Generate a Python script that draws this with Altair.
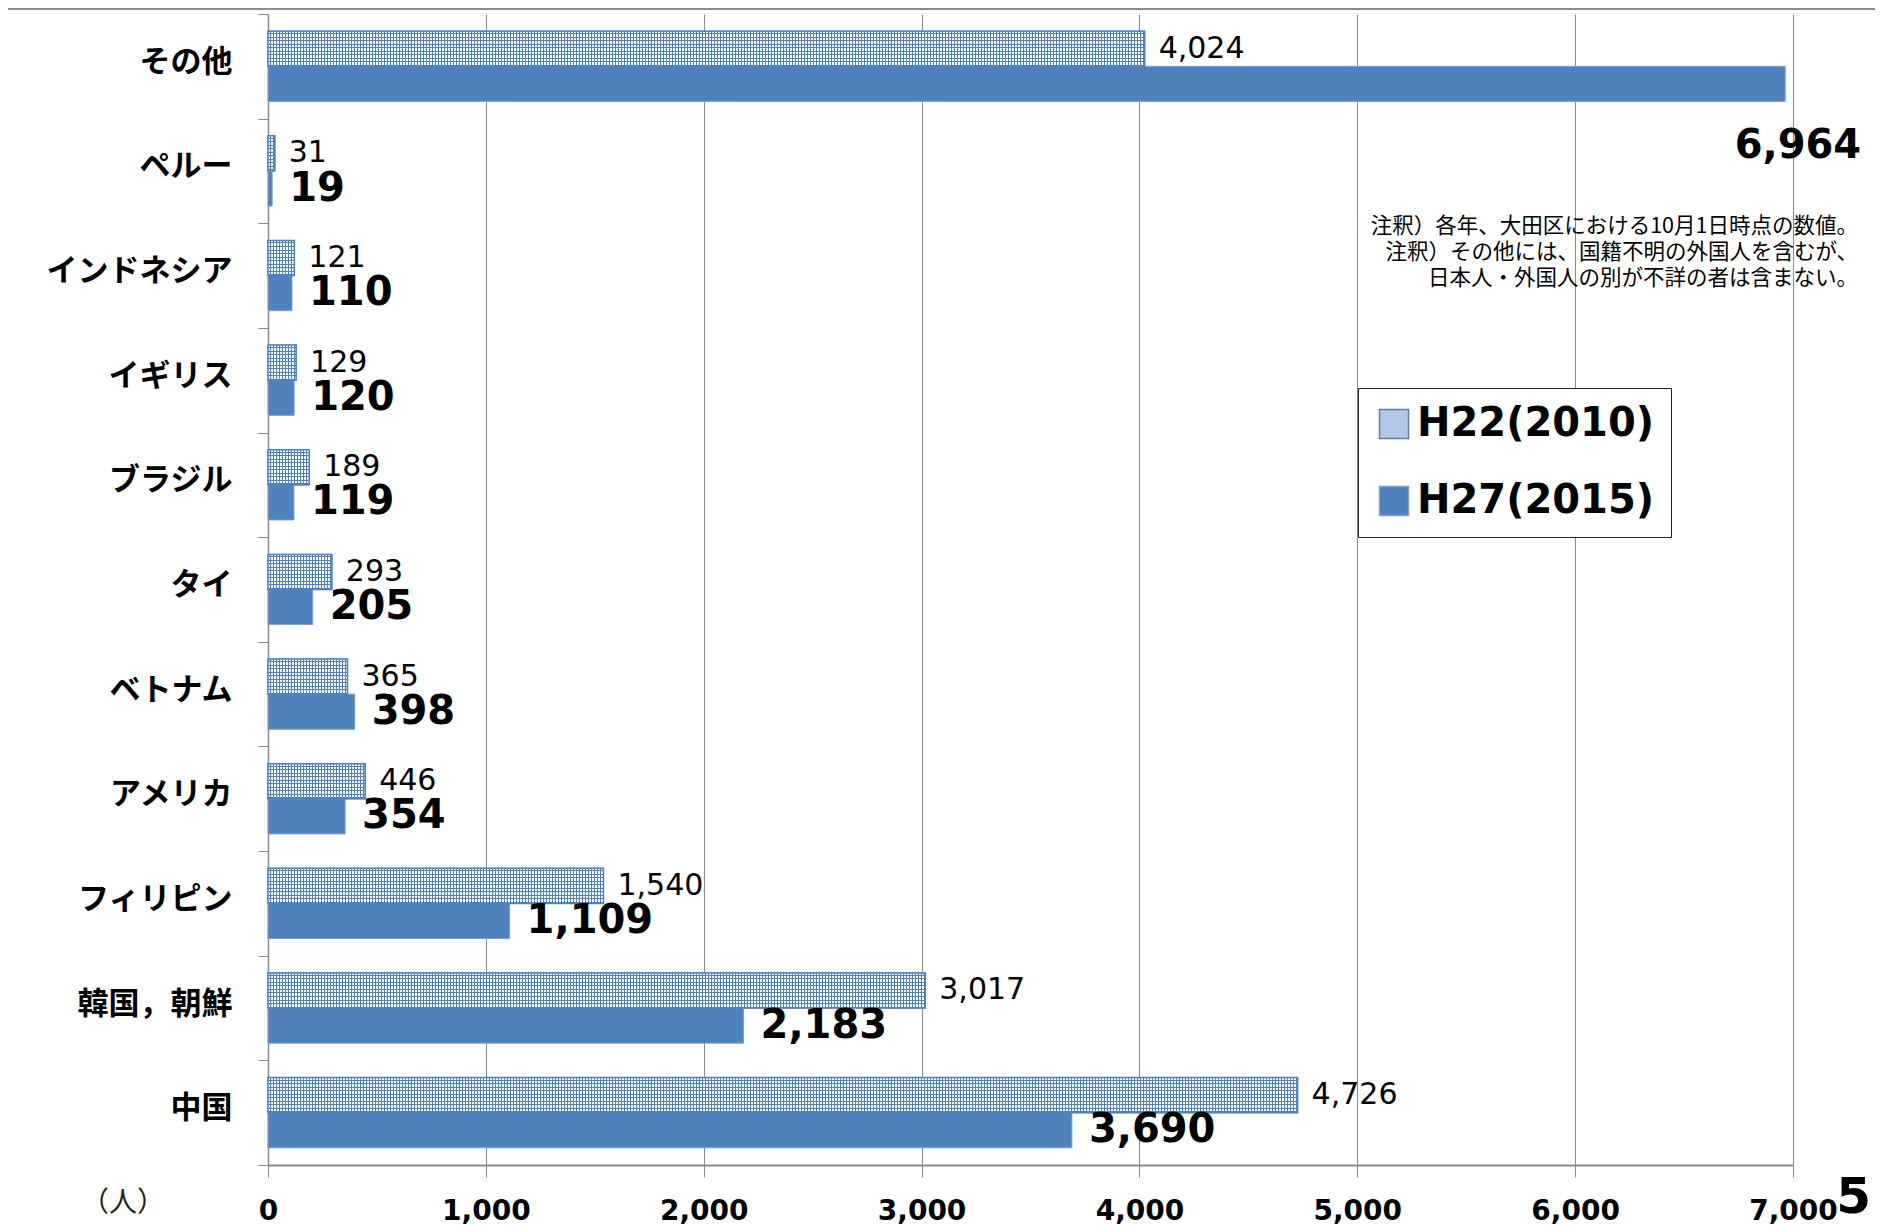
import altair as alt
import pandas as pd

# ---------------- data ----------------
categories = ["その他", "ペルー", "インドネシア", "イギリス", "ブラジル", "タイ",
              "ベトナム", "アメリカ", "フィリピン", "韓国，朝鮮", "中国"]
h22_values = [4024, 31, 121, 129, 189, 293, 365, 446, 1540, 3017, 4726]
h27_values = [6964, 19, 110, 120, 119, 205, 398, 354, 1109, 2183, 3690]
series_names = ["H22(2010)", "H27(2015)"]
x_tick_values = [0, 1000, 2000, 3000, 4000, 5000, 6000, 7000]
x_domain = [0, 7000]
note_lines = ["注釈）各年、大田区における10月1日時点の数値。",
              "注釈）その他には、国籍不明の外国人を含むが、",
              "日本人・外国人の別が不詳の者は含まない。"]
unit_label = "（人）"
page_number = "5"

rows = []
for cat, a, b in zip(categories, h22_values, h27_values):
    rows.append({"cat": cat, "series": series_names[0], "value": a, "label": f"{a:,}"})
    rows.append({"cat": cat, "series": series_names[1], "value": b, "label": f"{b:,}"})
df = pd.DataFrame(rows)

# ---------------- style ----------------
W, H = 1525, 1151
BLUE = "#4f81bd"
GRID = "#8a8a8a"
JP = "Noto Sans CJK JP"
NUM = "DejaVu Sans"
SUB_H = H / len(categories) / (2 + 2 * 0.49)


def stripe_stops(length, period, lw, start, bg):
    stops = [alt.GradientStop(offset=0, color=bg)]
    pos = start
    last = 0
    while pos < length:
        a = round(min(pos / length, 1), 5)
        b = round(min((pos + lw) / length, 1), 5)
        a = max(a, last)
        b = max(b, a)
        stops += [alt.GradientStop(offset=a, color=bg),
                  alt.GradientStop(offset=a, color=BLUE),
                  alt.GradientStop(offset=b, color=BLUE),
                  alt.GradientStop(offset=b, color=bg)]
        last = b
        pos += period
    stops.append(alt.GradientStop(offset=1, color=bg))
    return stops


def vstripes(v):
    w = v / x_domain[1] * W
    return alt.LinearGradient(gradient="linear", stops=stripe_stops(w, 3.0, 1.0, 2.0, "white"),
                              x1=0, x2=1, y1=0, y2=0)


def hstripes():
    clear = "rgba(79,129,189,0)"
    return alt.LinearGradient(gradient="linear",
                              stops=stripe_stops(SUB_H, SUB_H / 10, 1.0, 2.0, clear),
                              x1=0, x2=0, y1=0, y2=1)


x_enc = alt.X("value:Q", scale=alt.Scale(domain=x_domain, nice=False, zero=True),
              axis=alt.Axis(title=None, values=x_tick_values, format=",d", grid=True,
                            gridColor=GRID, gridWidth=1, tickSize=12, tickColor=GRID,
                            domainColor=GRID, domainWidth=2, labelFont=NUM,
                            labelFontSize=28, labelFontWeight="bold", labelColor="black",
                            labelPadding=20, labelFlush=False, labelOverlap=False))
y_enc = alt.Y("cat:N", sort=categories, scale=alt.Scale(paddingInner=0, paddingOuter=0),
              axis=alt.Axis(title=None, tickBand="extent", labelFont=JP, labelFontSize=31,
                            labelFontWeight="bold", labelColor="black", labelPadding=26,
                            labelOffset=-4,
                            tickSize=10, tickColor=GRID, domainColor=GRID, domainWidth=1.5,
                            grid=False, labelLimit=400))
yoff_enc = alt.YOffset("series:N", sort=series_names,
                       scale=alt.Scale(paddingInner=0, paddingOuter=0.49))

base = alt.Chart(df).encode(x=x_enc, y=y_enc, yOffset=yoff_enc)
is22 = alt.datum.series == series_names[0]
is27 = alt.datum.series == series_names[1]

main = base.mark_bar(strokeWidth=1).encode(
    fill=alt.Fill("series:N", sort=series_names,
                  scale=alt.Scale(domain=series_names, range=["#b3c8e4", BLUE]),
                  legend=alt.Legend(title=None, orient="none", legendX=1090, legendY=374,
                                    direction="vertical", symbolType="square",
                                    symbolSize=841, symbolStrokeColor=BLUE,
                                    symbolStrokeWidth=1.5, labelFont=NUM, labelFontSize=40,
                                    labelFontWeight="bold", labelColor="black",
                                    labelOffset=3, rowPadding=37, padding=16,
                                    strokeColor="#222222", fillColor="white",
                                    cornerRadius=0, labelLimit=400)),
    stroke=alt.Stroke("series:N", sort=series_names,
                      scale=alt.Scale(domain=series_names, range=[BLUE, "#7d9fd3"]),
                      legend=None),
)

stripe_layers = []
for cat, v in zip(categories, h22_values):
    stripe_layers.append(
        base.transform_filter(is22 & (alt.datum.cat == cat))
        .mark_bar(fill=vstripes(v), strokeWidth=0)
    )

overlay = base.transform_filter(is22).mark_bar(fill=hstripes(), stroke=BLUE, strokeWidth=1.5)

lab22 = base.transform_filter(is22).mark_text(
    align="left", baseline="middle", dx=14, font=NUM, fontSize=30, color="black"
).encode(text="label:N")

lab27 = base.transform_filter(is27 & (alt.datum.cat != categories[0])).mark_text(
    align="left", baseline="middle", dx=17, font=NUM, fontSize=40, fontWeight="bold",
    color="black"
).encode(text="label:N")

lab27_top = base.transform_filter(is27 & (alt.datum.cat == categories[0])).mark_text(
    align="right", baseline="middle", dx=76, dy=62, font=NUM, fontSize=40,
    fontWeight="bold", color="black"
).encode(text="label:N")

one = pd.DataFrame({"a": [0]})
notes = alt.Chart(one).mark_text(
    text=note_lines, align="right", baseline="top", lineHeight=26, font=JP,
    fontSize=21.5, color="black"
).encode(x=alt.value(1590), y=alt.value(202))

unit = alt.Chart(one).mark_text(
    text=unit_label, align="center", baseline="middle", font=JP, fontSize=28, color="#222222"
).encode(x=alt.value(-145), y=alt.value(1190))

page = alt.Chart(one).mark_text(
    text=page_number, align="right", baseline="middle", font=NUM, fontSize=50,
    fontWeight="bold", color="black"
).encode(x=alt.value(1603), y=alt.value(1184))

topline = alt.Chart(one).mark_rule(color="#8c8c8c", strokeWidth=2).encode(
    x=alt.value(-260), x2=alt.value(1607), y=alt.value(-5))

chart = alt.layer(
    main, *stripe_layers, overlay, lab22, lab27, lab27_top, notes, unit, page, topline
).properties(
    width=W, height=H,
    autosize=alt.AutoSizeParams(type="none"),
    padding={"left": 260, "top": 6, "right": 82, "bottom": 61},
    background="white",
).configure_view(stroke=None)

chart.save("out.html", embed_options={"renderer": "svg", "actions": False})
